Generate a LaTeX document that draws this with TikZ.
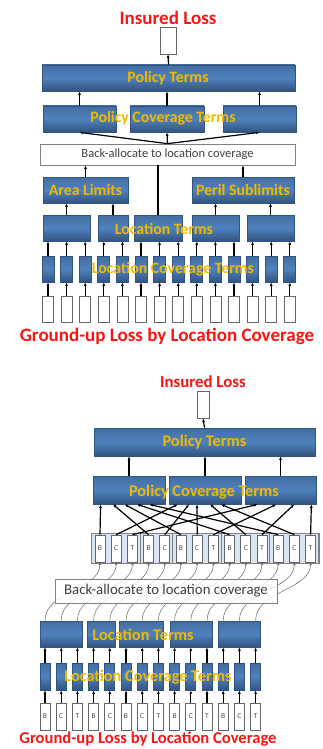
\documentclass[tikz,border=0pt]{standalone}
\usepackage{fontspec}
\setmainfont{Carlito}
\usetikzlibrary{arrows.meta, positioning, calc, fit, backgrounds}

\definecolor{boxblue}{RGB}{79,129,189}
\definecolor{boxdark}{RGB}{50,84,128}
\definecolor{termgold}{RGB}{238,186,0}
\definecolor{lossred}{RGB}{250,20,20}
\definecolor{palecov}{RGB}{218,229,243}

\begin{document}
\begin{tikzpicture}[x=1pt, y=-1pt,
    term/.style={draw=boxdark, line width=0.8pt, top color=boxblue!85!black, bottom color=boxdark, middle color=boxblue, inner sep=0pt},
    leaf/.style={draw=gray!80!black, fill=white, line width=0.7pt, inner sep=0pt},
    letter/.style={leaf, minimum width=10pt, minimum height=27pt, font=\fontsize{7.5}{7.5}\selectfont, text=black!70},
    grp/.style={draw=gray, line width=1.2pt, fill=palecov, inner xsep=3pt, inner ysep=1.5pt},
    alloc/.style={draw=gray, fill=white, line width=0.7pt, inner sep=0pt, text=black!75},
    label/.style={font=\bfseries\fontsize{15.8}{16}\selectfont, text=termgold},
    loss/.style={font=\bfseries\fontsize{19}{19}\selectfont, text=lossred},
    up/.style={-{Latex[length=3.5pt,width=3pt]}, line width=1.2pt},
    back/.style={-{Stealth[length=3pt,width=2.5pt]}, draw=gray!80!black, line width=0.5pt}
]
    \useasboundingbox (0,0) rectangle (323,749);

    % top: terms applied in a tree
    \node[loss] (ins) at (168,18) {Insured Loss};
    \node[leaf, minimum width=16pt, minimum height=27pt] (out) at (168,40.5) {};
    \node[term, minimum width=253pt, minimum height=26pt] (pol) at (168.5,78) {};
    \node[term, minimum width=73pt, minimum height=26pt] (pc1) at (79.5,119) {};
    \node[term, minimum width=74pt, minimum height=26pt] (pc2) at (167,119) {};
    \node[term, minimum width=73pt, minimum height=26pt] (pc3) at (259.5,119) {};
    \node[alloc, minimum width=255pt, minimum height=21pt, font=\fontsize{12.5}{13}\selectfont] (back) at (167.5,154.5) {Back-allocate to location coverage};
    \node[term, minimum width=85pt, minimum height=26pt] (area) at (85.5,190) {};
    \node[term, minimum width=102pt, minimum height=26pt] (peril) at (243,190) {};
    \node[term, minimum width=47pt, minimum height=26pt] (loc1) at (66.5,228) {};
    \node[term, minimum width=30pt, minimum height=26pt] (loc2) at (113,228) {};
    \node[term, minimum width=48pt, minimum height=26pt] (loc3) at (158,228) {};
    \node[term, minimum width=47pt, minimum height=26pt] (loc4) at (215.5,228) {};
    \node[term, minimum width=47pt, minimum height=26pt] (loc5) at (270.5,228) {};
    \foreach \i in {1,...,14} {
        \node[term, minimum width=12pt, minimum height=26pt] (lc\i) at ({48+18.6*(\i-1)},269) {};
        \node[leaf, minimum width=11pt, minimum height=26pt] (gl\i) at ({48+18.6*(\i-1)},309) {};
        \draw[up] (gl\i) -- (lc\i);
    }
    \foreach \i/\k in {1/1,2/1,3/1,4/2,5/2,6/3,7/3,8/3,9/4,10/4,11/4,12/5,13/5,14/5}
        \draw[up] (lc\i.north) -- (lc\i.north |- loc\k.south);
    \draw[up] (loc1.north) -- (loc1.north |- area.south);
    \draw[up] (loc2.north) -- (loc2.north |- area.south);
    \draw[up] (loc4.north) -- (loc4.north |- peril.south);
    \draw[up] (loc5.north) -- (loc5.north |- peril.south);
    \draw[line width=1.2pt] (loc3.north) -- (loc3.north |- back.south);
    \draw[up] (area.north) -- (area.north |- back.south);
    \draw[up] (peril.north) -- (peril.north |- back.south);
    \foreach \k in {1,2,3} {
        \draw[up] (back.north) -- (pc\k.south);
        \draw[up] (pc\k.north) -- (pc\k.north |- pol.south);
    }
    \draw[up] (pol.north) -- (out.south);
    \node[label] (poltxt) at (168,78) {Policy Terms};
    \node[label] (pctxt) at (163,118) {Policy Coverage Terms};
    \node[label] (areatxt) at (area) {Area Limits};
    \node[label] (periltxt) at (peril) {Peril Sublimits};
    \node[label] (loctxt) at (164,229) {Location Terms};
    \node[label] (lctxt) at (173,269) {Location Coverage Terms};
    \node[loss] (gup) at (167,336) {Ground-up Loss by Location Coverage};

    % bottom: location terms first, then policy terms by coverage
    \node[loss, font=\bfseries\fontsize{16.8}{17}\selectfont] (ins2) at (203,382) {Insured Loss};
    \node[leaf, minimum width=12pt, minimum height=27pt] (out2) at (203,404.5) {};
    \node[term, minimum width=221pt, minimum height=28pt] (pol2) at (204.5,442) {};
    \node[term, minimum width=72pt, minimum height=28pt] (pcb1) at (129,490) {};
    \node[term, minimum width=72pt, minimum height=28pt] (pcb2) at (205,490) {};
    \node[term, minimum width=71pt, minimum height=28pt] (pcb3) at (280.5,490) {};
    \foreach \i/\t in {1/B,2/C,3/T,4/B,5/C,6/B,7/C,8/T,9/B,10/C,11/T,12/B,13/C,14/T} {
        \node[letter] (bc\i) at ({100+16.2*(\i-1)},548.5) {\t};
        \node[letter] (gb\i) at ({45+16.2*(\i-1)},716.5) {\t};
        \node[term, minimum width=10pt, minimum height=27pt] (lcb\i) at ({45+16.2*(\i-1)},676.5) {};
        \draw[up] (gb\i) -- (lcb\i);
    }
    \begin{pgfonlayer}{background}
        \node[grp, fit=(bc1)(bc3)] (g1) {};
        \node[grp, fit=(bc4)(bc5)] (g2) {};
        \node[grp, fit=(bc6)(bc8)] (g3) {};
        \node[grp, fit=(bc9)(bc11)] (g4) {};
        \node[grp, fit=(bc12)(bc14)] (g5) {};
    \end{pgfonlayer}
    \foreach \i/\k/\f in {1/1/0.11, 4/1/0.28, 6/1/0.44, 9/1/0.61, 12/1/0.78,
                          2/2/0.125, 5/2/0.28, 7/2/0.39, 10/2/0.57, 13/2/0.72,
                          3/3/0.18, 8/3/0.44, 11/3/0.69, 14/3/0.93}
        \draw[up] (bc\i.north) -- ($(pcb\k.south west)!\f!(pcb\k.south east)$);
    \foreach \k in {1,2,3}
        \draw[up] (pcb\k.north) -- (pcb\k.north |- pol2.south);
    \draw[up] (pol2.north) -- (out2.south);

    \node[term, minimum width=42pt, minimum height=26pt] (ltb1) at (61,634) {};
    \node[term, minimum width=28pt, minimum height=26pt] (ltb2) at (101,634) {};
    \node[term, minimum width=44pt, minimum height=26pt] (ltb3) at (141,634) {};
    \node[term, minimum width=42pt, minimum height=26pt] (ltb4) at (191,634) {};
    \node[term, minimum width=42pt, minimum height=26pt] (ltb5) at (239,634) {};
    \foreach \i/\k in {1/1,2/1,3/1,4/2,5/2,6/3,7/3,8/3,9/4,10/4,11/4,12/5,13/5,14/5} {
        \draw[up] (lcb\i.north) -- (lcb\i.north |- ltb\k.south);
        \draw[back] (lcb\i.north |- ltb\k.north) .. controls +(0,-30) and +(0,28) .. (bc\i.south);
    }
    \node[alloc, fill opacity=0.8, text opacity=1, minimum width=222pt, minimum height=24pt, font=\fontsize{14.8}{15}\selectfont] (back2) at (166,591) {Back-allocate to location coverage};

    \node[label, font=\bfseries\fontsize{16.3}{16}\selectfont] (pol2txt) at (204.5,442) {Policy Terms};
    \node[label, font=\bfseries\fontsize{16.3}{16}\selectfont] (pcb2txt) at (204,492) {Policy Coverage Terms};
    \node[label, font=\bfseries\fontsize{16.3}{16}\selectfont] (ltbtxt) at (143,635) {Location Terms};
    \node[label, font=\bfseries\fontsize{16.3}{16}\selectfont] (lcbtxt) at (148,677) {Location Coverage Terms};
    \node[loss, font=\bfseries\fontsize{16.6}{17}\selectfont] (gup2) at (148,739) {Ground-up Loss by Location Coverage};
\end{tikzpicture}
\end{document}
